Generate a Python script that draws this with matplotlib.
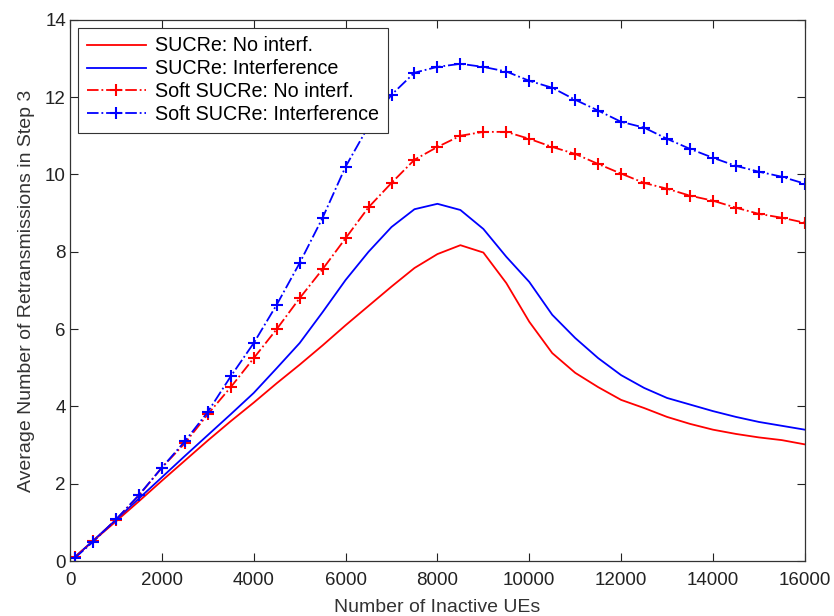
import numpy as np
import matplotlib.pyplot as plt

plt.rcParams['font.family'] = ['Liberation Sans', 'DejaVu Sans']

# number of inactive UEs
ues = [100] + list(range(500, 16001, 500))

sucre_no_interf = [0.10, 0.52, 1.03, 1.55, 2.08, 2.60, 3.12, 3.62, 4.10, 4.60,
                   5.08, 5.58, 6.10, 6.60, 7.10, 7.58, 7.94, 8.17, 7.98, 7.19,
                   6.19, 5.38, 4.87, 4.50, 4.17, 3.96, 3.73, 3.55, 3.40, 3.29,
                   3.20, 3.13, 3.02]
sucre_interf = [0.10, 0.53, 1.07, 1.62, 2.17, 2.72, 3.26, 3.80, 4.35, 4.99,
                5.64, 6.44, 7.27, 8.00, 8.64, 9.10, 9.24, 9.08, 8.59, 7.87,
                7.22, 6.37, 5.77, 5.25, 4.81, 4.48, 4.22, 4.05, 3.88, 3.73,
                3.60, 3.50, 3.40]
soft_no_interf = [0.10, 0.52, 1.07, 1.70, 2.42, 3.05, 3.80, 4.50, 5.25, 6.00,
                  6.80, 7.55, 8.35, 9.15, 9.78, 10.38, 10.71, 11.00, 11.10, 11.10,
                  10.92, 10.71, 10.53, 10.27, 10.02, 9.78, 9.63, 9.45, 9.32, 9.14,
                  8.98, 8.88, 8.75]
soft_interf = [0.08, 0.50, 1.08, 1.71, 2.42, 3.10, 3.86, 4.78, 5.64, 6.63,
               7.71, 8.88, 10.20, 11.25, 12.06, 12.63, 12.78, 12.86, 12.78, 12.66,
               12.42, 12.24, 11.93, 11.65, 11.36, 11.21, 10.92, 10.66, 10.43, 10.22,
               10.07, 9.94, 9.76]

fig = plt.figure(figsize=(8.34, 6.16), dpi=100)
ax = fig.add_axes([0.084, 0.089, 0.881, 0.879])

lw = 1.3
ax.plot(ues, sucre_no_interf, '-', color='#ff0000', lw=lw, label='SUCRe: No interf.')
ax.plot(ues, sucre_interf, '-', color='#0000ff', lw=lw, label='SUCRe: Interference')
ax.plot(ues, soft_no_interf, '-.', color='#ff0000', lw=lw, marker='+', ms=9,
        mew=1.5, label='Soft SUCRe: No interf.')
ax.plot(ues, soft_interf, '-.', color='#0000ff', lw=lw, marker='+', ms=9,
        mew=1.5, label='Soft SUCRe: Interference')

ax.set_xlim(0, 16000)
ax.set_ylim(0, 14)
ax.set_xticks(np.arange(0, 16001, 2000))
ax.set_yticks(np.arange(0, 15, 2))
ax.tick_params(direction='in', top=True, right=True, length=6, width=0.8,
               labelsize=13.5, colors='#222222')
ax.tick_params(axis='x', pad=8)
ax.tick_params(axis='y', pad=3)
for s in ax.spines.values():
    s.set_color('#333333')
    s.set_linewidth(0.9)

ax.set_xlabel('Number of Inactive UEs', fontsize=14, color='#333333', labelpad=7)
ax.set_ylabel('Average Number of Retransmissions in Step 3', fontsize=14,
              color='#333333', labelpad=7)

leg = ax.legend(loc='upper left', fontsize=14.2, fancybox=False, framealpha=1,
                edgecolor='#333333', handlelength=3.0, handletextpad=0.45,
                labelspacing=0.2, borderpad=0.45, borderaxespad=0.4)
leg.get_frame().set_linewidth(0.8)

fig.savefig('out.png', dpi=100)
